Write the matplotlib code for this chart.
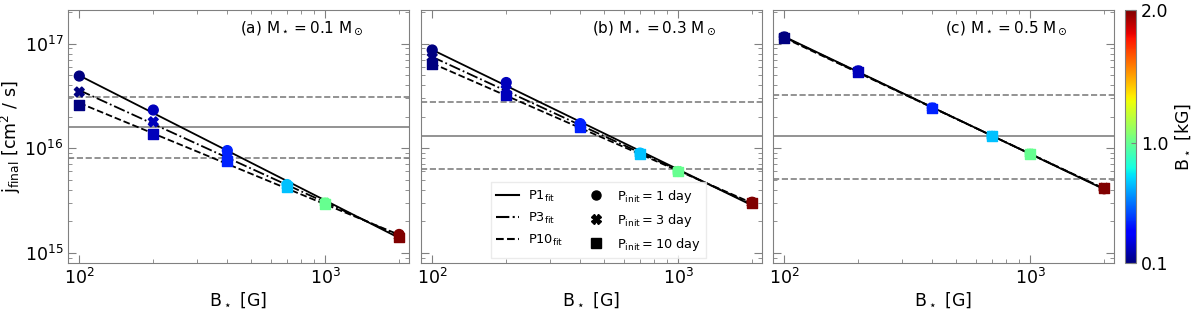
import numpy as np
import matplotlib
matplotlib.use('Agg')
import matplotlib.pyplot as plt
from matplotlib.lines import Line2D

plt.rcParams['mathtext.default'] = 'regular'
plt.rcParams['font.family'] = 'DejaVu Sans'

# magnetic field strengths [G]
B = np.array([100, 200, 400, 700, 1000, 2000])

# final specific angular momentum [cm^2/s]
j_a_p1 = [4.9e16, 2.32e16, 9.5e15, 4.5e15, 3.0e15, 1.5e15]
j_a_p3 = [3.45e16, 1.79e16, 8.3e15, 4.4e15, 3.0e15, 1.45e15]
j_a_p10 = [2.6e16, 1.37e16, 7.5e15, 4.3e15, 2.95e15, 1.4e15]

j_b_p1 = [8.7e16, 4.25e16, 1.72e16, 9.0e15, 6.0e15, 3.05e15]
j_b_p3 = [7.4e16, 3.65e16, 1.66e16, 8.9e15, 6.0e15, 3.0e15]
j_b_p10 = [6.4e16, 3.2e16, 1.6e16, 8.8e15, 6.0e15, 3.0e15]

j_c_p1 = [1.16e17, 5.5e16, 2.43e16, 1.3e16, 8.8e15, 4.1e15]
j_c_p3 = [1.15e17, 5.45e16, 2.42e16, 1.3e16, 8.8e15, 4.15e15]
j_c_p10 = [1.14e17, 5.35e16, 2.4e16, 1.3e16, 8.8e15, 4.2e15]

# observed reference values (mean, lower, upper)
j_obs_a = [1.6e16, 8.1e15, 3.1e16]
j_obs_b = [1.32e16, 6.3e15, 2.75e16]
j_obs_c = [1.3e16, 5.1e15, 3.25e16]

titles = [r'(a) M$_\star = 0.1$ M$_\odot$',
          r'(b) M$_\star = 0.3$ M$_\odot$',
          r'(c) M$_\star = 0.5$ M$_\odot$']

panels = [(j_a_p1, j_a_p3, j_a_p10, j_obs_a),
          (j_b_p1, j_b_p3, j_b_p10, j_obs_b),
          (j_c_p1, j_c_p3, j_c_p10, j_obs_c)]

fig = plt.figure(figsize=(12, 3.11), dpi=100)
lefts = [0.0567, 0.3508, 0.6442]
axes = [fig.add_axes([l, 0.1543, 0.284, 0.8137]) for l in lefts]
cax = fig.add_axes([0.9375, 0.1543, 0.0092, 0.8137])

cmap = plt.get_cmap('jet')
norm = matplotlib.colors.Normalize(vmin=0.1, vmax=2.0)

xfit = np.linspace(100, 2000, 50)
styles = ['-', '-.', '--']
markers = ['o', 'X', 's']

for i, ax in enumerate(axes):
    p1, p3, p10, obs = panels[i]
    ax.axhline(obs[0], color='gray', lw=1.2, zorder=1)
    ax.axhline(obs[1], color='gray', lw=1.2, ls='--', zorder=1)
    ax.axhline(obs[2], color='gray', lw=1.2, ls='--', zorder=1)
    for j, data in enumerate([p1, p3, p10]):
        k, c = np.polyfit(np.log10(B), np.log10(data), 1)
        ax.plot(xfit, 10 ** (k * np.log10(xfit) + c), color='k', ls=styles[j], lw=1.3, zorder=2)
    for j, data in enumerate([p1, p3, p10]):
        ax.scatter(B, data, c=B / 1000., cmap=cmap, norm=norm, marker=markers[j], s=50, zorder=3)
    ax.set_xscale('log')
    ax.set_yscale('log')
    ax.set_xlim(90, 2190)
    ax.set_ylim(8.0e14, 2.1e17)
    ax.tick_params(which='both', direction='in', top=True, right=True, colors='gray',
                   labelcolor='k', labelsize=12.5)
    ax.tick_params(which='major', length=6)
    ax.tick_params(which='minor', length=3)
    for s in ax.spines.values():
        s.set_color('gray')
    ax.set_xlabel(r'B$_\star$ [G]', fontsize=12.5, labelpad=2)
    ax.text(0.685, 0.93, titles[i], transform=ax.transAxes, ha='center', va='center', fontsize=11)
    if i > 0:
        ax.tick_params(labelleft=False)

axes[0].set_ylabel(r'j$_{final}$ [cm$^2$ / s]', fontsize=12.5, labelpad=1)

handles = [Line2D([], [], color='k', ls='-'),
           Line2D([], [], color='k', ls='-.'),
           Line2D([], [], color='k', ls='--'),
           Line2D([], [], ls='none', marker='o', color='k', ms=6.5),
           Line2D([], [], ls='none', marker='X', color='k', ms=6.5),
           Line2D([], [], ls='none', marker='s', color='k', ms=6.5)]
labels = [r'P1$_{fit}$', r'P3$_{fit}$', r'P10$_{fit}$',
          r'P$_{init} = 1$ day', r'P$_{init} = 3$ day', r'P$_{init} = 10$ day']
axes[1].legend(handles, labels, ncol=2, loc='lower left', bbox_to_anchor=(0.205, 0.02),
               fontsize=9.3, frameon=True, edgecolor='0.9', fancybox=False,
               handlelength=1.8, columnspacing=1.6, labelspacing=0.55,
               handletextpad=0.7, borderaxespad=0.0)

sm = matplotlib.cm.ScalarMappable(norm=norm, cmap=cmap)
cb = fig.colorbar(sm, cax=cax, ticks=[0.1, 1.0, 2.0])
cb.ax.set_yticklabels(['0.1', '1.0', '2.0'])
cb.ax.tick_params(labelsize=12.5, direction='in', colors='gray', labelcolor='k')
cb.outline.set_edgecolor('gray')
cb.set_label(r'B$_\star$ [kG]', fontsize=12.5)

fig.savefig('out.png', dpi=100)
